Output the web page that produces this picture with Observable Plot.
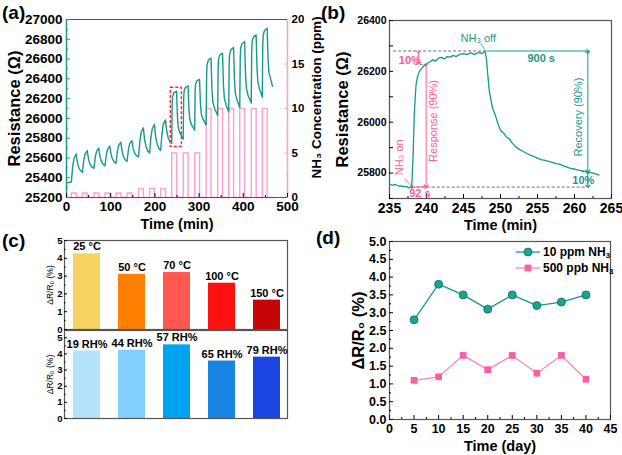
<!DOCTYPE html>
<html><head><meta charset="utf-8">
<script src="https://cdn.jsdelivr.net/npm/d3@7"></script>
<script src="https://cdn.jsdelivr.net/npm/@observablehq/plot@0.6"></script>
<style>
body{margin:0;background:#fff;}
#wrap{position:relative;width:622px;height:455px;overflow:hidden;font-family:"Liberation Sans",Arial,sans-serif;background:#fff;}
.pl{position:absolute;font-weight:bold;font-size:19px;line-height:19px;}
.lg{position:absolute;font-weight:bold;font-size:12px;line-height:14px;white-space:nowrap;}
.lg sub{font-size:0.65em;vertical-align:-0.3em;line-height:0;}
</style></head><body><div id="wrap"></div>
<script>
// ---------- Panel (a) data ----------
const aXDomain = [0, 500];
const aYDomain = [25200, 27000];
const aYTicks = [25200, 25400, 25600, 25800, 26000, 26200, 26400, 26600, 26800, 27000];
const aYMinor = [25300, 25500, 25700, 25900, 26100, 26300, 26500, 26700, 26900];
const aXTicks = [0, 100, 200, 300, 400, 500];
const aXMinor = [50, 150, 250, 350, 450];
const concDomain = [0, 20];
const concTicks = [0, 5, 10, 15, 20];
const concMinor = [2.5, 7.5, 12.5, 17.5];
const aTimeRange = [0, 470];
const pulseOn   = [11, 36, 62, 87, 112, 137, 163, 188, 213, 238, 264, 290, 316, 342, 367, 392, 418, 443];
const pulseOff  = [22, 47, 73, 98, 123, 148, 174, 199, 224, 249, 275, 301, 327, 353, 378, 403, 429, 454];
const pulseConc = [0.5, 0.5, 0.5, 0.5, 0.5, 0.5, 1, 1, 1, 5, 5, 5, 10, 10, 10, 10, 10, 10];
const aTime = [0, 5,
  11, 14, 17, 22, 23, 25, 28, 32,
  36, 39, 42, 47, 48, 50, 53, 57,
  62, 65, 68, 73, 74, 76, 79, 83,
  87, 90, 93, 98, 99, 101, 104, 108,
  112, 115, 118, 123, 124, 126, 129, 133,
  137, 140, 143, 148, 149, 151, 154, 158,
  163, 166, 169, 174, 175, 177, 180, 184,
  188, 191, 194, 199, 200, 202, 205, 209,
  213, 216, 219, 224, 225, 227, 230, 234,
  238, 239, 240, 243, 249, 250, 251, 253, 257,
  264, 265, 266, 269, 275, 276, 277, 279, 283,
  290, 291, 292, 295, 301, 302, 303, 305, 309,
  316, 317, 318, 321, 327, 328, 329, 331, 335,
  342, 343, 344, 347, 353, 354, 355, 357, 361,
  367, 368, 369, 372, 378, 379, 380, 382, 386,
  392, 393, 394, 397, 403, 404, 405, 407, 411,
  418, 419, 420, 423, 429, 430, 431, 433, 437,
  443, 444, 445, 448, 454, 455, 456, 458, 462, 466];
const aRes = [25350, 25352,
  25355, 25512, 25597, 25640, 25603, 25548, 25501, 25470,
  25455, 25576, 25642, 25675, 25639, 25585, 25540, 25509,
  25495, 25608, 25669, 25700, 25664, 25610, 25565, 25534,
  25520, 25630, 25690, 25720, 25685, 25633, 25589, 25559,
  25545, 25663, 25728, 25760, 25721, 25663, 25614, 25581,
  25565, 25681, 25744, 25775, 25742, 25693, 25651, 25623,
  25610, 25772, 25861, 25905, 25854, 25778, 25714, 25670,
  25650, 25810, 25897, 25940, 25887, 25808, 25741, 25696,
  25675, 25846, 25939, 25985, 25937, 25865, 25805, 25764,
  25745, 26143, 26222, 26259, 26275, 26144, 26018, 25906, 25848,
  25790, 26195, 26276, 26314, 26330, 26209, 26092, 25988, 25934,
  25880, 26266, 26344, 26380, 26395, 26271, 26151, 26045, 25990,
  25935, 26441, 26543, 26590, 26610, 26453, 26303, 26169, 26100,
  26030, 26503, 26597, 26641, 26660, 26499, 26345, 26208, 26136,
  26065, 26553, 26650, 26696, 26715, 26552, 26394, 26255, 26183,
  26110, 26609, 26709, 26755, 26775, 26608, 26446, 26304, 26229,
  26155, 26673, 26776, 26824, 26845, 26675, 26511, 26366, 26291,
  26215, 26736, 26841, 26889, 26910, 26752, 26600, 26465, 26395, 26325];
const aBox = {t1: 236, t2: 261, r1: 25710, r2: 26310};

// ---------- Panel (b) data ----------
const bXDomain = [235, 265];
const bYDomain = [25700, 26400];
const bXTicks = [235, 240, 245, 250, 255, 260, 265];
const bXMinor = [237.5, 242.5, 247.5, 252.5, 257.5, 262.5];
const bYTicks = [25800, 26000, 26200, 26400];
const bYMinor = [25700, 25900, 26100, 26300];
const bTime = [235.0, 235.4, 235.8, 236.2, 236.6, 237.0, 237.3, 237.6, 237.9, 238.0, 238.2, 238.35, 238.5, 238.6, 238.8, 239.0, 239.3, 239.6, 240.0,
  240.4, 240.8, 241.2, 241.6, 242.0, 242.4, 242.8, 243.2, 243.6, 244.0, 244.5, 245.0, 245.5, 246.0, 246.5, 247.0, 247.5, 247.9,
  248.1, 248.3, 248.5, 248.8, 249.0, 249.3, 249.6, 250.0, 250.4, 250.8, 251.2, 251.6, 252.0, 252.5, 253.0, 253.5, 254.0, 254.5,
  255.0, 255.5, 256.0, 256.5, 257.0, 257.5, 258.0, 258.5, 259.0, 259.5, 260.0, 260.5, 261.0, 261.5, 262.0, 262.5, 263.0, 263.3];
const bRes = [25757, 25753, 25755, 25749, 25750, 25746, 25748, 25741, 25747, 25742, 25880, 26030, 26110, 26150, 26180, 26198, 26210, 26220, 26230,
  26236, 26246, 26240, 26252, 26255, 26249, 26258, 26256, 26263, 26258, 26267, 26270, 26266, 26273, 26266, 26275, 26270, 26280,
  26250, 26180, 26120, 26073, 26050, 26027, 26000, 25968, 25958, 25942, 25934, 25918, 25905, 25894, 25886, 25878, 25871, 25866,
  25858, 25853, 25850, 25846, 25842, 25837, 25835, 25828, 25823, 25818, 25816, 25812, 25810, 25806, 25803, 25800, 25796, 25792];
const bDashed = [
  {x1: 235.5, x2: 248.0, y1: 26280, y2: 26280},
  {x1: 238.4, x2: 240.0, y1: 26228, y2: 26228},
  {x1: 238.0, x2: 262.3, y1: 25745, y2: 25745},
  {x1: 260.9, x2: 261.8, y1: 25805, y2: 25805}];
const bPinkArrows = [
  {x1: 238.9, x2: 238.9, y1: 26276, y2: 26232},
  {x1: 239.95, x2: 239.95, y1: 26224, y2: 25749},
  {x1: 238.05, x2: 239.9, y1: 25745, y2: 25745}];
const bTealArrows = [
  {x1: 261.8, x2: 261.8, y1: 26276, y2: 25809},
  {x1: 261.8, x2: 261.8, y1: 25801, y2: 25749}];
const bTealHoriz = [{x1: 248.1, x2: 261.8, y1: 26280, y2: 26280}];
const bPinkLeader = [{x1: 237.05, x2: 237.9, y1: 25778, y2: 25751}];
const bTealLeader = [{x1: 247.3, x2: 247.9, y1: 26309, y2: 26286}];
const bPinkText = [
  {x: 237.75, y: 26244, text: "10%", anchor: "end"},
  {x: 239.1, y: 25721, text: "92 s", anchor: "middle"}];
const bPinkRot = [
  {x: 236.4, y: 25862, text: "NH₃ on"},
  {x: 240.9, y: 26005, text: "Response (90%)"}];
const bTealText = [
  {x: 255.5, y: 26250, text: "900 s", anchor: "middle"},
  {x: 261.2, y: 25771, text: "10%", anchor: "end"}];
const bTealOff = [{x: 247.0, y: 26330, text: "NH₃ off"}];
const bTealRot = [{x: 260.5, y: 26020, text: "Recovery (90%)"}];

// ---------- Panel (c) data ----------
const tempLabels = ["25 °C", "50 °C", "70 °C", "100 °C", "150 °C"];
const tempValues = [4.25, 3.1, 3.2, 2.6, 1.65];
const tempColors = ["#f6d263", "#ff8000", "#ff5850", "#ff1010", "#c40606"];
const rhLabels = ["19 RH%", "44 RH%", "57 RH%", "65 RH%", "79 RH%"];
const rhValues = [4.18, 4.23, 4.56, 3.56, 3.8];
const rhColors = ["#b4e2fa", "#80d0fb", "#00a3f2", "#1885e4", "#1c44e0"];
const cTicks = [0, 1, 2, 3, 4, 5];
const cMinor = [0.5, 1.5, 2.5, 3.5, 4.5];

// ---------- Panel (d) data ----------
const days = [5, 10, 15, 20, 25, 30, 35, 40];
const ppm10 = [2.8, 3.8, 3.5, 3.1, 3.5, 3.2, 3.3, 3.5];
const ppb500 = [1.1, 1.2, 1.8, 1.4, 1.8, 1.3, 1.8, 1.13];
const dXTicks = [0, 5, 10, 15, 20, 25, 30, 35, 40, 45];
const dXMinor = [2.5, 7.5, 12.5, 17.5, 22.5, 27.5, 32.5, 37.5, 42.5];
const dYTicks = [0, 0.5, 1, 1.5, 2, 2.5, 3, 3.5, 4, 4.5, 5];
const dYMinor = [0.25, 0.75, 1.25, 1.75, 2.25, 2.75, 3.25, 3.75, 4.25, 4.75];

// ---------- drawing ----------
const wrap = document.getElementById("wrap");
const F = '"Liberation Sans", Arial, sans-serif';
const teal = "#17998a", pink = "#ff9fcb", pinkTxt = "#ff5c95", gray = "#555", dash = "#6a6a6a";
const base = {fontFamily: F, fontWeight: "bold", background: "transparent", overflow: "visible", color: "black"};
const B = "bold";
const intFmt = d3.format("d");
function place(el, left, top) {
  el.style.position = "absolute"; el.style.left = left + "px"; el.style.top = top + "px";
  el.style.maxWidth = "none";
  wrap.appendChild(el);
}
const none = () => "";
const yLab = (txt, dx, size, extra = {}) => Plot.text([txt], {frameAnchor: "left", rotate: -90, dx, textAnchor: "middle", lineAnchor: "middle", fontSize: size, fontWeight: B, ...extra});
const xLab = (txt, dy, size) => Plot.text([txt], {frameAnchor: "bottom", dy, textAnchor: "middle", lineAnchor: "middle", fontSize: size, fontWeight: B});

// (a) concentration (under)
const pulsePts = [{t: aTimeRange[0], c: 0}];
pulseOn.forEach((on, i) => {
  pulsePts.push({t: on, c: 0}, {t: on, c: pulseConc[i]}, {t: pulseOff[i], c: pulseConc[i]}, {t: pulseOff[i], c: 0});
});
pulsePts.push({t: aTimeRange[1], c: 0});
const aConc = Plot.plot({
  width: 330, height: 240, marginLeft: 66, marginRight: 43, marginTop: 19, marginBottom: 43,
  style: {...base, fontSize: "12px"},
  x: {domain: aXDomain, axis: null}, y: {domain: concDomain},
  marks: [
    Plot.line(pulsePts, {x: "t", y: "c", stroke: pink, strokeWidth: 1.4}),
    Plot.ruleX([aXDomain[1]], {stroke: pink, strokeWidth: 1.5}),
    Plot.axisY(concTicks, {anchor: "right", tickSize: -4, tickPadding: 8, stroke: pink, fill: "black", fontSize: 11.5, fontWeight: B, label: null}),
    Plot.axisY(concMinor, {anchor: "right", tickSize: -2, tickFormat: none, stroke: pink, label: null}),
    Plot.text(["NH₃ Concentration (ppm)"], {frameAnchor: "right", rotate: -90, dx: 29, dy: -11, textAnchor: "middle", lineAnchor: "middle", fontSize: 13.5, fontWeight: B})
  ]
});
place(aConc, 0, 0);

const resData = aTime.map((t, i) => ({t, r: aRes[i]}));
const aPlot = Plot.plot({
  width: 330, height: 240, marginLeft: 66, marginRight: 43, marginTop: 19, marginBottom: 43,
  style: {...base, fontSize: "13px"},
  x: {domain: aXDomain}, y: {domain: aYDomain},
  marks: [
    Plot.ruleY([aYDomain[1]], {stroke: gray, strokeWidth: 1.2}),
    Plot.ruleY([aYDomain[0]], {stroke: gray, strokeWidth: 1.2}),
    Plot.ruleX([aXDomain[0]], {stroke: teal, strokeWidth: 1.5}),
    Plot.axisY(aYTicks, {tickSize: -4, tickPadding: 8, stroke: teal, fill: "black", fontSize: 13.5, fontWeight: B, tickFormat: intFmt, label: null}),
    Plot.axisY(aYMinor, {tickSize: -2, tickFormat: none, stroke: teal, label: null}),
    Plot.axisX(aXTicks, {tickSize: -4, tickPadding: 8, fontSize: 13.5, fontWeight: B, tickFormat: intFmt, label: null}),
    Plot.axisX(aXMinor, {tickSize: -2, tickFormat: none, label: null}),
    Plot.rect([aBox], {x1: "t1", x2: "t2", y1: "r1", y2: "r2", stroke: "#ff2626", strokeWidth: 1.4, strokeDasharray: "3,2", fill: "none"}),
    Plot.line(resData, {x: "t", y: "r", stroke: teal, strokeWidth: 1.4}),
    yLab("Resistance (Ω)", -52, 16.5),
    xLab("Time (min)", 27, 14.5)
  ]
});
place(aPlot, 0, 0);

// (b)
const bData = bTime.map((t, i) => ({t, r: bRes[i]}));
const bPlot = Plot.plot({
  width: 312, height: 240, marginLeft: 79, marginRight: 11, marginTop: 20, marginBottom: 42,
  style: {...base, fontSize: "12px"},
  x: {domain: bXDomain}, y: {domain: bYDomain},
  marks: [
    Plot.frame({stroke: gray, strokeWidth: 1.2}),
    Plot.axisY(bYTicks, {tickSize: -4, tickPadding: 7, fontSize: 10.5, fontWeight: B, tickFormat: intFmt, label: null}),
    Plot.axisY(bYMinor, {tickSize: -4, tickFormat: none, label: null}),
    Plot.axisX(bXTicks, {tickSize: -4, tickPadding: 9, fontSize: 14, fontWeight: B, tickFormat: intFmt, label: null}),
    Plot.axisX(bXMinor, {tickSize: -2, tickFormat: none, label: null}),
    Plot.link(bDashed, {x1: "x1", x2: "x2", y1: "y1", y2: "y2", stroke: dash, strokeWidth: 1, strokeDasharray: "3,2"}),
    Plot.link(bPinkArrows, {x1: "x1", x2: "x2", y1: "y1", y2: "y2", stroke: pinkTxt, strokeWidth: 1, markerStart: "arrow", markerEnd: "arrow"}),
    Plot.link(bTealArrows, {x1: "x1", x2: "x2", y1: "y1", y2: "y2", stroke: teal, strokeWidth: 1, markerStart: "arrow", markerEnd: "arrow"}),
    Plot.link(bTealHoriz, {x1: "x1", x2: "x2", y1: "y1", y2: "y2", stroke: teal, strokeWidth: 1, markerEnd: "arrow"}),
    Plot.link(bPinkLeader, {x1: "x1", x2: "x2", y1: "y1", y2: "y2", stroke: pinkTxt, strokeWidth: 0.8}),
    Plot.link(bTealLeader, {x1: "x1", x2: "x2", y1: "y1", y2: "y2", stroke: teal, strokeWidth: 0.8}),
    Plot.line(bData, {x: "t", y: "r", stroke: teal, strokeWidth: 1.3}),
    Plot.text(bPinkText, {x: "x", y: "y", text: "text", textAnchor: d => d.anchor, fill: pinkTxt, fontSize: 11, fontWeight: B}),
    Plot.text(bPinkRot, {x: "x", y: "y", text: "text", rotate: -90, fill: pinkTxt, fontSize: 11, fontWeight: "normal"}),
    Plot.text(bTealText, {x: "x", y: "y", text: "text", textAnchor: d => d.anchor, fill: teal, fontSize: 11, fontWeight: B}),
    Plot.text(bTealOff, {x: "x", y: "y", text: "text", fill: teal, fontSize: 11, fontWeight: "normal"}),
    Plot.text(bTealRot, {x: "x", y: "y", text: "text", rotate: -90, fill: teal, fontSize: 11, fontWeight: "normal"}),
    yLab("Resistance (Ω)", -47, 16.5),
    xLab("Time (min)", 27, 14.5)
  ]
});
place(bPlot, 310, 0);

// (c)
function barPanel(labels, values, colors, ymax, h, mt, mb, top) {
  const data = labels.map((l, i) => ({label: l, v: values[i], c: colors[i]}));
  const p = Plot.plot({
    width: 310, height: h, marginLeft: 64, marginRight: 23, marginTop: mt, marginBottom: mb,
    style: {...base, fontSize: "10px"},
    x: {domain: labels, axis: null, paddingInner: 0.39, paddingOuter: 0.13, align: 0.55},
    y: {domain: [0, ymax]},
    color: {type: "identity"},
    marks: [
      Plot.barY(data, {x: "label", y: "v", fill: "c"}),
      Plot.frame({stroke: gray, strokeWidth: 1.2}),
      Plot.axisY(cTicks, {tickSize: -3, tickPadding: 5, fontSize: 9.5, fontWeight: B, label: null}),
      Plot.axisY(cMinor, {tickSize: -1.5, tickFormat: none, label: null}),
      Plot.text(data, {x: "label", y: "v", text: "label", dy: -7, fontSize: 11, fontWeight: B}),
      yLab("ΔR/R₀ (%)", -14, 8.5, {fontWeight: "normal"})
    ]
  });
  place(p, 0, top);
}
barPanel(tempLabels, tempValues, tempColors, 5, 102, 12, 1, 228);
barPanel(rhLabels, rhValues, rhColors, 5.45, 100, 0, 12, 330);

// (d)
const d10 = days.map((d, i) => ({day: d, v: ppm10[i]}));
const d500 = days.map((d, i) => ({day: d, v: ppb500[i]}));
const dPlot = Plot.plot({
  width: 312, height: 227, marginLeft: 79, marginRight: 12, marginTop: 13, marginBottom: 36,
  style: {...base, fontSize: "12px"},
  x: {domain: [0, 45]}, y: {domain: [0, 5]},
  marks: [
    Plot.frame({stroke: gray, strokeWidth: 1.2}),
    Plot.axisY(dYTicks, {tickSize: -4, tickPadding: 7, fontSize: 12.5, fontWeight: B, tickFormat: d3.format(".1f"), label: null}),
    Plot.axisY(dYMinor, {tickSize: -2, tickFormat: none, label: null}),
    Plot.axisX(dXTicks, {tickSize: -4, tickPadding: 9, fontSize: 12.5, fontWeight: B, tickFormat: intFmt, label: null}),
    Plot.axisX(dXMinor, {tickSize: -2, tickFormat: none, label: null}),
    Plot.line(d10, {x: "day", y: "v", stroke: teal, strokeWidth: 1.3}),
    Plot.dot(d10, {x: "day", y: "v", r: 4, fill: "#1aa590", stroke: "#0c6c5f", strokeWidth: 0.8}),
    Plot.line(d500, {x: "day", y: "v", stroke: "#ff86b6", strokeWidth: 1.3}),
    Plot.dot(d500, {x: "day", y: "v", symbol: "square", r: 3.8, fill: "#ff5ea4"}),
    yLab("ΔR/R₀ (%)", -31, 16.5),
    xLab("Time (day)", 27, 14.5)
  ]
});
place(dPlot, 310, 228);

// legend for (d)
function legendRow(top, symbol, lineColor, fill, stroke, html) {
  const s = d3.create("svg").attr("width", 26).attr("height", 12);
  s.append("line").attr("x1", 1).attr("x2", 25).attr("y1", 6).attr("y2", 6).attr("stroke", lineColor).attr("stroke-width", 1.3);
  if (symbol === "circle") s.append("circle").attr("cx", 13).attr("cy", 6).attr("r", 4).attr("fill", fill).attr("stroke", stroke).attr("stroke-width", 0.8);
  else s.append("rect").attr("x", 9.6).attr("y", 2.6).attr("width", 6.8).attr("height", 6.8).attr("fill", fill);
  const n = s.node(); place(n, 515, top + 1);
  const t = document.createElement("div"); t.className = "lg"; t.innerHTML = html; place(t, 543, top);
}
legendRow(245, "circle", teal, "#1aa590", "#0c6c5f", "10 ppm NH<sub>3</sub>");
legendRow(261, "square", "#ff86b6", "#ff5ea4", null, "500 ppb NH<sub>3</sub>");

// panel letters
[["(a)", 2, 3], ["(b)", 321, 3], ["(c)", 2, 231], ["(d)", 316, 228]].forEach(([s, x, y]) => {
  const el = document.createElement("div"); el.className = "pl"; el.textContent = s; place(el, x, y);
});
</script></body></html>
